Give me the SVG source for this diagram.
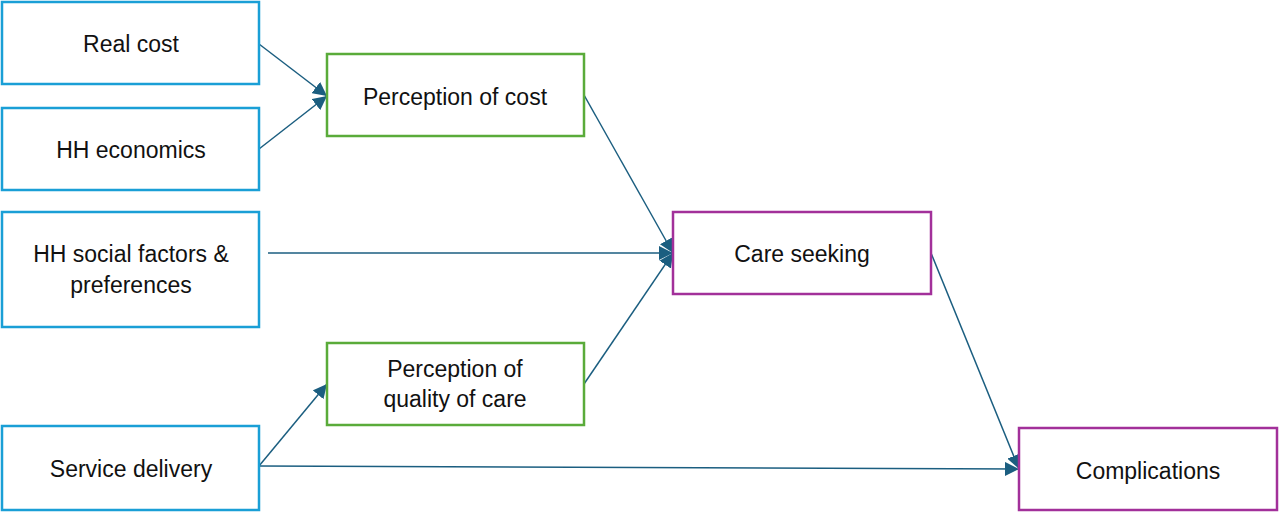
<svg xmlns="http://www.w3.org/2000/svg" width="1280" height="514" viewBox="0 0 1280 514">
<style>
rect{fill:#fff;stroke-width:2.5}
.b{stroke:#1a9fd6}.g{stroke:#5aab3a}.p{stroke:#a2309a}
text{font-family:"Liberation Sans",Arial,sans-serif;font-size:23px;fill:#111;text-anchor:middle}
#edges line{stroke:#1b5e80;stroke-width:1.5;marker-end:url(#a)}
</style>
<defs><marker id="a" viewBox="0 0 10 10" refX="10" refY="5" markerWidth="14" markerHeight="14" markerUnits="userSpaceOnUse" orient="auto"><path d="M0,0L10,5L0,10z" fill="#1b5e80"/></marker></defs>
<rect width="1280" height="514" fill="#fff" stroke="none"/>
<g id="edges">
<line x1="259" y1="44" x2="327" y2="96"/>
<line x1="259" y1="149" x2="327" y2="96"/>
<line x1="584" y1="95" x2="673" y2="253"/>
<line x1="268" y1="253" x2="673" y2="253"/>
<line x1="584" y1="384" x2="673" y2="253"/>
<line x1="259" y1="466" x2="327" y2="384"/>
<line x1="259" y1="466" x2="1019" y2="469"/>
<line x1="931" y1="253" x2="1019" y2="469"/>
</g>
<g id="real"><rect class="b" x="2" y="2" width="257" height="82"/><text x="131" y="52">Real cost</text></g>
<g id="hhecon"><rect class="b" x="2" y="108" width="257" height="82"/><text x="131" y="158">HH economics</text></g>
<g id="hhsocial"><rect class="b" x="2" y="212" width="257" height="115"/><text x="131" y="262">HH social factors &amp;</text><text x="131" y="293">preferences</text></g>
<g id="service"><rect class="b" x="2" y="426" width="257" height="84"/><text x="131" y="477">Service delivery</text></g>
<g id="pcost"><rect class="g" x="327" y="54" width="257" height="82"/><text x="455" y="105">Perception of cost</text></g>
<g id="pqual"><rect class="g" x="327" y="343" width="257" height="82"/><text x="455" y="377">Perception of</text><text x="455" y="407">quality of care</text></g>
<g id="care"><rect class="p" x="673" y="212" width="258" height="82"/><text x="802" y="262">Care seeking</text></g>
<g id="comp"><rect class="p" x="1019" y="428" width="258" height="82"/><text x="1148" y="479">Complications</text></g>
</svg>
